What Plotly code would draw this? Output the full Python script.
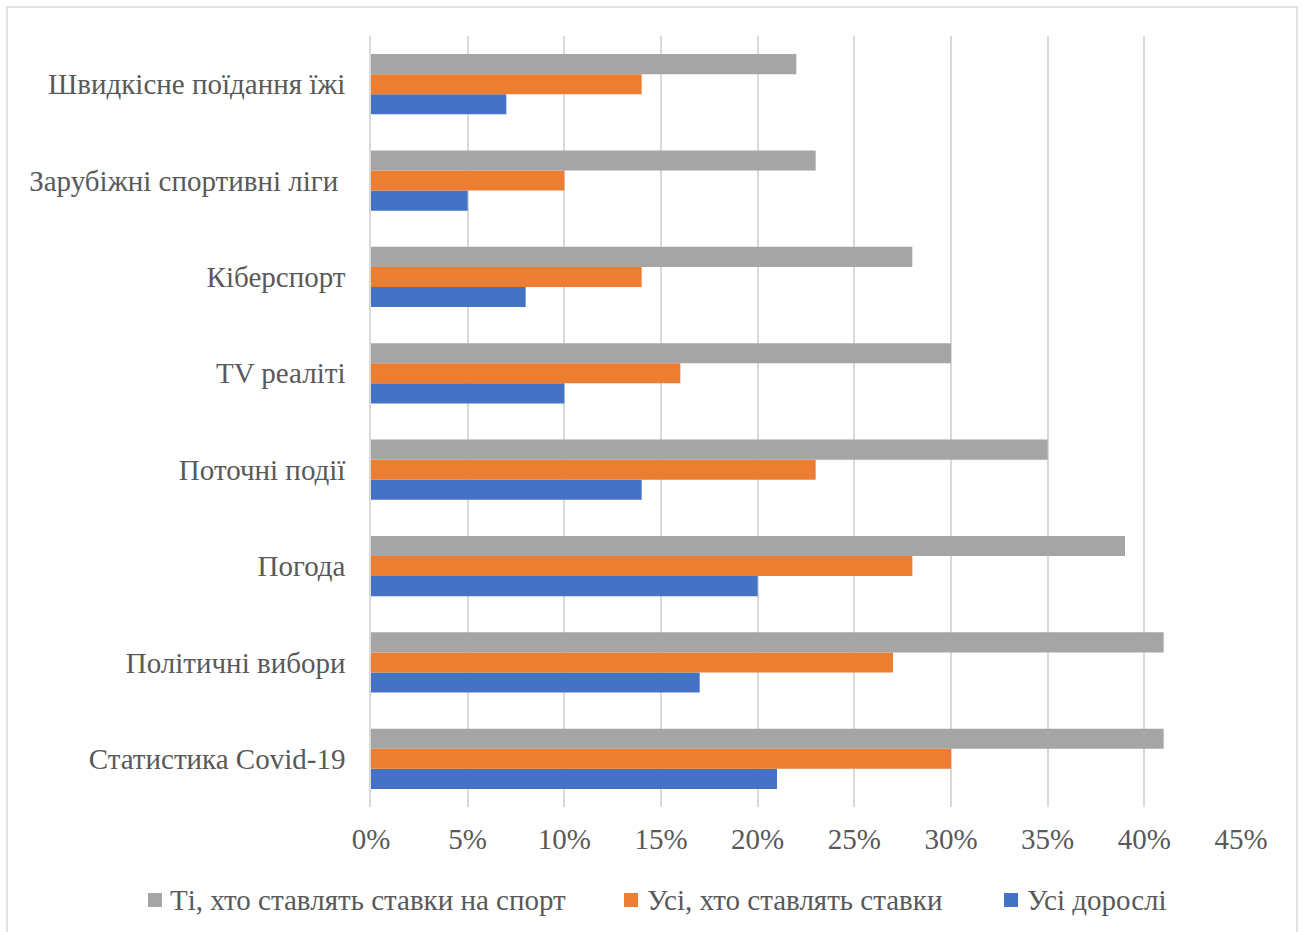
import plotly.graph_objects as go

categories = [
    "Статистика Covid-19",
    "Політичні вибори",
    "Погода",
    "Поточні події",
    "TV реаліті",
    "Кіберспорт",
    "Зарубіжні спортивні ліги\u00a0",
    "Швидкісне поїдання їжі",
]
all_adults = [21, 17, 20, 14, 10, 8, 5, 7]
all_bettors = [30, 27, 28, 23, 16, 14, 10, 14]
sports_bettors = [41, 41, 39, 35, 30, 28, 23, 22]
x_ticks = [0, 5, 10, 15, 20, 25, 30, 35, 40, 45]

W, H = 1304, 932
ML, MR, MT, MB = 371, 63, 36, 125
FONT = "Liberation Serif, Times New Roman, serif"
FS = 29
TEXT = "#595959"
GRID = "#d9d9d9"

pw = W - ML - MR
ph = H - MT - MB


def px_x(x):
    return (x - ML) / pw


def px_y(y):
    return (H - MB - y) / ph


fig = go.Figure()
series = [
    ("Усі дорослі", all_adults, "#4472c4"),
    ("Усі, хто ставлять ставки", all_bettors, "#ed7d31"),
    ("Ті, хто ставлять ставки на спорт", sports_bettors, "#a5a5a5"),
]
for name, vals, color in series:
    fig.add_trace(go.Bar(
        y=categories, x=vals, name=name, orientation="h",
        marker=dict(color=color, line=dict(width=0)),
        showlegend=False,
    ))

# outer chart frame
fig.add_shape(
    type="rect", xref="paper", yref="paper",
    x0=px_x(7), x1=px_x(1297), y0=px_y(960), y1=px_y(7),
    line=dict(color=GRID, width=1.5), fillcolor="rgba(0,0,0,0)",
    layer="below",
)

# legend row under the axis: (square left edge, text left edge)
legend_pos = [(148, 168), (624, 645), (1004, 1025)]
legend_y = 900
for (sq_x, tx_x), (name, _, color) in zip(legend_pos, reversed(series)):
    fig.add_shape(
        type="rect", xref="paper", yref="paper",
        x0=px_x(sq_x), x1=px_x(sq_x + 14),
        y0=px_y(legend_y + 7), y1=px_y(legend_y - 7),
        line=dict(width=0), fillcolor=color,
    )
    fig.add_annotation(
        xref="paper", yref="paper", x=px_x(tx_x), y=px_y(legend_y),
        xanchor="left", yanchor="middle", text=name, showarrow=False,
        font=dict(family=FONT, size=FS, color=TEXT),
    )

fig.update_layout(
    width=W, height=H,
    margin=dict(l=ML, r=MR, t=MT, b=MB, autoexpand=False),
    paper_bgcolor="white", plot_bgcolor="white",
    barmode="group", bargap=0.375, bargroupgap=0,
    font=dict(family=FONT, size=FS, color=TEXT),
    xaxis=dict(
        range=[0, 45], tickvals=x_ticks,
        ticktext=[f"{v}%" for v in x_ticks],
        showgrid=True, gridcolor=GRID, gridwidth=1.5,
        zeroline=False, showline=False, ticks="",
        ticklabelstandoff=12,
        tickfont=dict(family=FONT, size=FS, color=TEXT),
    ),
    yaxis=dict(
        type="category", showgrid=False, zeroline=False,
        showline=True, linecolor=GRID, linewidth=1.5, ticks="",
        ticklabelstandoff=18,
        tickfont=dict(family=FONT, size=FS, color=TEXT),
    ),
    showlegend=False,
)

fig.write_html("out.html")
